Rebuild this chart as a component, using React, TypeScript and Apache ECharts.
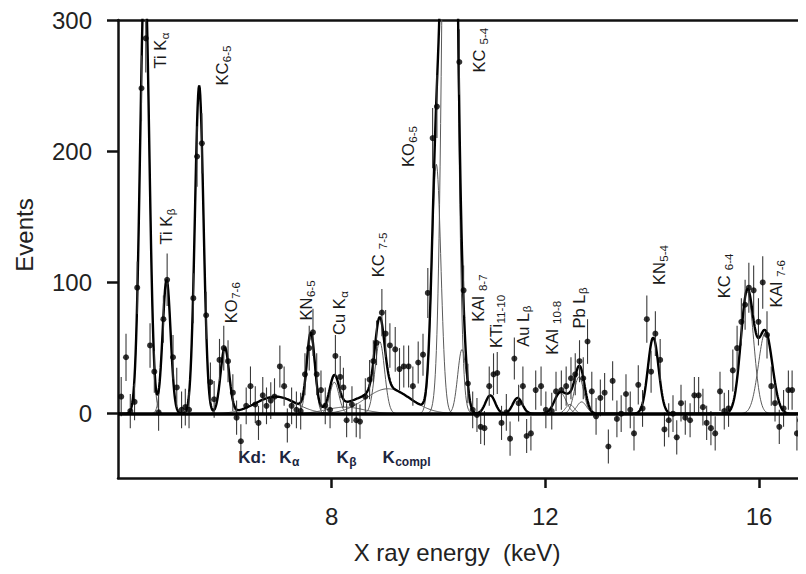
import React, { useEffect, useRef } from 'react';
import * as echarts from 'echarts';

// ---- measured spectrum (X-ray energy in keV, counts, statistical error) ----
const energyKeV = [
  4.06, 4.15, 4.23, 4.31, 4.36, 4.44, 4.52, 4.60, 4.68, 4.76, 4.85, 4.92, 5.03, 5.10, 5.19, 5.26, 5.33, 5.41, 5.48, 5.57,
  5.65, 5.73, 5.80, 5.90, 5.98, 6.06, 6.15, 6.22, 6.30, 6.40, 6.48, 6.57, 6.63, 6.71, 6.78, 6.86, 6.93, 7.03, 7.11, 7.17,
  7.25, 7.34, 7.42, 7.50, 7.58, 7.65, 7.72, 7.80, 7.88, 7.97, 8.07, 8.16, 8.22, 8.28, 8.38, 8.46, 8.53, 8.63, 8.71, 8.78,
  8.84, 8.94, 9.01, 9.09, 9.19, 9.27, 9.35, 9.44, 9.52, 9.62, 9.71, 9.80, 9.89, 9.97, 10.39, 10.47, 10.55, 10.64, 10.72, 10.79,
  10.86, 10.95, 11.03, 11.10, 11.18, 11.27, 11.34, 11.42, 11.50, 11.58, 11.65, 11.73, 11.82, 11.92, 12.01, 12.12, 12.20, 12.30, 12.39, 12.48,
  12.56, 12.64, 12.71, 12.79, 12.87, 12.95, 13.03, 13.11, 13.18, 13.26, 13.34, 13.42, 13.51, 13.59, 13.66, 13.74, 13.82, 13.90, 13.98, 14.06,
  14.15, 14.23, 14.31, 14.39, 14.46, 14.54, 14.62, 14.71, 14.79, 14.87, 14.95, 15.02, 15.10, 15.18, 15.27, 15.35, 15.43, 15.51, 15.59, 15.67,
  15.74, 15.81, 15.90, 15.99, 16.07, 16.15, 16.23, 16.30, 16.38, 16.46, 16.55, 16.62, 16.71, 16.77, 16.86,
];
const events = [
  13, 43, 2, 9, 96, 248, 286, 52, 32, 1, 72, 102, 43, 20, 3, 5, 3, 88, 196, 206,
  75, 24, 11, 41, 50, 40, 16, -3, -21, 6, 21, 7, -7, 14, 6, 10, 13, 36, 21, -9,
  6, 3, 2, 30, 50, 62, 30, 18, 6, 3, 44, 28, 20, -5, 7, -5, -6, 13, 26, 40,
  54, 77, 61, 52, 49, 34, 36, 36, 21, 39, 45, 92, 210, 234, 268, 94, 23, 3, -1, -10,
  -11, 21, 30, 31, -7, 1, -19, 42, 8, 21, -17, -15, 18, 21, 3, 2, 17, 18, 21, 27,
  30, 40, 27, 55, 17, -2, 12, 16, -25, 25, -4, 0, 15, 3, -15, 22, 4, 72, 32, 61,
  41, -12, -5, 0, -18, 8, -3, -5, 14, 14, 5, -7, -11, -15, 17, 2, 4, 33, 50, 70,
  83, 96, 94, 70, 100, 60, 21, 8, -10, 4, 18, 18, -15, -5, 11,
];
const eventErrors = [
  15, 18, 13, 14, 20, 25, 26, 17, 16, 14, 18, 20, 17, 15, 14, 14, 14, 19, 23, 23,
  18, 15, 14, 16, 17, 16, 14, 13, 13, 14, 15, 14, 13, 14, 14, 14, 14, 16, 15, 13,
  14, 14, 14, 16, 17, 18, 16, 15, 14, 14, 16, 16, 15, 13, 14, 13, 13, 14, 15, 16,
  17, 18, 18, 17, 17, 16, 16, 16, 15, 16, 16, 19, 23, 24, 25, 19, 15, 14, 13, 13,
  13, 15, 16, 16, 13, 14, 13, 16, 14, 15, 13, 13, 15, 15, 14, 14, 15, 15, 15, 16,
  16, 16, 16, 17, 15, 14, 14, 15, 13, 15, 14, 14, 15, 14, 13, 15, 14, 18, 16, 17,
  16, 13, 13, 14, 13, 14, 13, 13, 14, 14, 14, 13, 13, 13, 15, 14, 14, 16, 17, 18,
  19, 19, 19, 18, 20, 18, 15, 14, 13, 14, 15, 15, 13, 13, 14,
];

// ---- fitted line components (Gaussian parameters) ----
const peakNames = [
  'Ti Kα', 'Ti Kβ', 'KC 6-5', 'KO 7-6', 'Kd Kα', 'KN 6-5', 'Cu Kα', 'Kd Kβ', 'KC 7-5', 'Kd Kcompl', 'KO 6-5',
  'KC 5-4', 'KAl 8-7', 'KTi 11-10', 'Au Lβ', 'KAl 10-8', 'KAl 10-8 b', 'Pb Lβ1', 'Pb Lβ2', 'KN 5-4', 'KC 6-4', 'KAl 7-6',
];
const peakCenters = [
  4.50, 4.91, 5.52, 6.00, 6.95, 7.61, 8.05, 8.25, 8.90, 9.05, 9.96,
  10.21, 10.44, 10.97, 11.48, 12.28, 12.46, 12.63, 12.68, 14.02, 15.78, 16.12,
];
const peakHeights = [
  340, 102, 250, 50, 13, 58, 24, 5, 55, 19, 190,
  820, 49, 14, 12, 16, 7, 28, 9, 58, 93, 62,
];
const peakSigmas = [
  0.085, 0.075, 0.08, 0.08, 0.38, 0.075, 0.085, 0.35, 0.09, 0.42, 0.085,
  0.105, 0.08, 0.09, 0.09, 0.11, 0.08, 0.09, 0.09, 0.10, 0.12, 0.13,
];

const xTickValues = [8, 12, 16];
const yTickValues = [0, 100, 200, 300];

// ---- annotations ----
const peakLabels = [
  { main: 'Ti K', sub: 'α', at: [4.79, 263] },
  { main: 'Ti K', sub: 'β', at: [4.9, 129] },
  { main: 'KC', sub: '6-5', at: [5.95, 250] },
  { main: 'KO', sub: '7-6', at: [6.12, 69] },
  { main: 'KN', sub: '6-5', at: [7.52, 71] },
  { main: 'Cu K', sub: 'α', at: [8.14, 60] },
  { main: 'KC ', sub: '7-5', at: [8.87, 104] },
  { main: 'KO', sub: '6-5', at: [9.43, 188] },
  { main: 'KC ', sub: '5-4', at: [10.76, 260] },
  { main: 'KAl ', sub: '8-7', at: [10.74, 70] },
  { main: 'KTi', sub: '11-10', at: [11.08, 50] },
  { main: 'Au L', sub: 'β', at: [11.58, 51] },
  { main: 'KAl ', sub: '10-8', at: [12.13, 45] },
  { main: 'Pb L', sub: 'β', at: [12.63, 65] },
  { main: 'KN', sub: '5-4', at: [14.13, 98] },
  { main: 'KC ', sub: '6-4', at: [15.35, 88] },
  { main: 'KAl ', sub: '7-6', at: [16.32, 81] },
];
const kdLabels = [
  { main: 'Kd:', sub: '', at: [6.25, -33] },
  { main: 'K', sub: 'α', at: [7.02, -33] },
  { main: 'K', sub: 'β', at: [8.09, -33] },
  { main: 'K', sub: 'compl', at: [8.95, -33] },
];

const X_MIN = 4;
const X_MAX = 16.88;
const Y_MIN = -49;
const Y_MAX = 300;
const FONT = '"Liberation Sans", Arial, sans-serif';

function gauss(x: number, c: number, a: number, s: number) {
  const d = x - c;
  return a * Math.exp(-(d * d) / (2 * s * s));
}

let measureCtx: CanvasRenderingContext2D | null = null;
function textWidth(text: string, font: string) {
  if (!measureCtx) measureCtx = document.createElement('canvas').getContext('2d');
  if (!measureCtx) return text.length * 8;
  measureCtx.font = font;
  return measureCtx.measureText(text).width;
}

function subLabel(
  main: string,
  sub: string,
  x: number,
  y: number,
  rotation: number,
  mainSize: number,
  subSize: number,
  weight: string,
  color: string,
  subDrop: number,
) {
  const w = textWidth(main, `${weight} ${mainSize}px ${FONT}`);
  const children: any[] = [
    {
      type: 'text',
      x: 0,
      y: 0,
      style: { text: main, fontSize: mainSize, fontWeight: weight, fontFamily: FONT, fill: color, align: 'left', verticalAlign: 'middle' },
    },
  ];
  if (sub) {
    children.push({
      type: 'text',
      x: w + 0.5,
      y: subDrop,
      style: { text: sub, fontSize: subSize, fontWeight: weight, fontFamily: FONT, fill: color, align: 'left', verticalAlign: 'middle' },
    });
  }
  return { type: 'group', x, y, rotation, silent: true, z: 20, children };
}

export default function App() {
  const ref = useRef<HTMLDivElement>(null);

  useEffect(() => {
    if (!ref.current) return;
    const chart = echarts.init(ref.current, undefined, { renderer: 'svg' });

    const grid: number[] = [];
    for (let i = 0; i <= 1300; i++) {
      const x = X_MIN + i * 0.01;
      if (x > X_MAX + 0.001) break;
      grid.push(+x.toFixed(3));
    }

    const componentSeries = peakNames.map((name, k) => {
      const c = peakCenters[k];
      const s = peakSigmas[k];
      const a = peakHeights[k];
      const data = grid.filter((x) => Math.abs(x - c) < 5 * s).map((x) => [x, gauss(x, c, a, s)]);
      return {
        type: 'line',
        name,
        data,
        showSymbol: false,
        clip: true,
        silent: true,
        z: 2,
        lineStyle: { color: '#5a5a5a', width: 1 },
      };
    });

    const totalData = grid.map((x) => {
      let sum = 0;
      for (let k = 0; k < peakCenters.length; k++) sum += gauss(x, peakCenters[k], peakHeights[k], peakSigmas[k]);
      return [x, sum];
    });

    const pointData = energyKeV.map((x, i) => [x, events[i], eventErrors[i]]);

    const option: any = {
      animation: false,
      backgroundColor: '#ffffff',
      grid: { left: 118, right: 0, top: 20, bottom: 96, containLabel: false },
      xAxis: [
        {
          type: 'value',
          min: X_MIN,
          max: X_MAX,
          axisLine: { show: true, onZero: false, lineStyle: { color: '#111', width: 2.5 } },
          axisTick: { show: true, inside: false, length: 10, customValues: xTickValues, lineStyle: { color: '#111', width: 2.5 } },
          axisLabel: { show: true, customValues: xTickValues, margin: 26, fontSize: 24, color: '#222', fontFamily: FONT },
          splitLine: { show: false },
        },
        {
          type: 'value',
          position: 'top',
          min: X_MIN,
          max: X_MAX,
          axisLine: { show: true, onZero: false, lineStyle: { color: '#111', width: 2.5 } },
          axisTick: { show: false },
          axisLabel: { show: false },
          splitLine: { show: false },
        },
      ],
      yAxis: {
        type: 'value',
        min: Y_MIN,
        max: Y_MAX,
        axisLine: { show: true, onZero: false, lineStyle: { color: '#111', width: 2.5 } },
        axisTick: { show: true, inside: false, length: 11, customValues: yTickValues, lineStyle: { color: '#111', width: 2.5 } },
        axisLabel: { show: true, customValues: yTickValues, margin: 26, fontSize: 24, color: '#222', fontFamily: FONT },
        splitLine: { show: false },
      },
      series: [
        ...componentSeries,
        {
          type: 'line',
          name: 'fit',
          data: totalData,
          showSymbol: false,
          clip: true,
          silent: true,
          z: 3,
          lineStyle: { color: '#000', width: 2.4 },
          markLine: {
            silent: true,
            symbol: 'none',
            label: { show: false },
            lineStyle: { color: '#000', width: 3.5, type: 'solid' },
            data: [{ yAxis: 0 }],
          },
        },
        {
          type: 'custom',
          name: 'errors',
          clip: true,
          silent: true,
          z: 4,
          encode: { x: 0, y: 1 },
          data: pointData,
          renderItem: (params: any, api: any) => {
            const x = api.value(0);
            const y = api.value(1);
            const e = api.value(2);
            const p1 = api.coord([x, y - e]);
            const p2 = api.coord([x, y + e]);
            return {
              type: 'line',
              shape: { x1: p1[0], y1: p1[1], x2: p2[0], y2: p2[1] },
              style: { stroke: '#3a3a3a', lineWidth: 1.1 },
            };
          },
        },
        {
          type: 'scatter',
          name: 'data',
          data: pointData.map((p) => [p[0], p[1]]),
          symbol: 'circle',
          symbolSize: 6,
          clip: true,
          silent: true,
          z: 5,
          itemStyle: { color: '#000' },
        },
      ],
    };

    chart.setOption(option);

    const graphics: any[] = [];
    peakLabels.forEach((lab) => {
      const p = chart.convertToPixel({ gridIndex: 0 }, lab.at) as number[];
      graphics.push(subLabel(lab.main, lab.sub, p[0], p[1], Math.PI / 2, 16.5, 11.5, 'normal', '#1a1a1a', 4.5));
    });
    kdLabels.forEach((lab) => {
      const p = chart.convertToPixel({ gridIndex: 0 }, lab.at) as number[];
      graphics.push(subLabel(lab.main, lab.sub, p[0], p[1], 0, 17, 12, 'bold', '#1c2540', 4.5));
    });
    graphics.push({
      type: 'text',
      x: 24,
      y: 235,
      rotation: Math.PI / 2,
      silent: true,
      style: { text: 'Events', fontSize: 24, fontFamily: FONT, fill: '#222', align: 'center', verticalAlign: 'middle' },
    });
    graphics.push({
      type: 'text',
      x: 457,
      y: 552,
      silent: true,
      style: { text: 'X ray energy  (keV)', fontSize: 24, fontFamily: FONT, fill: '#222', align: 'center', verticalAlign: 'middle' },
    });
    chart.setOption({ graphic: graphics });

    return () => chart.dispose();
  }, []);

  return <div ref={ref} style={{ width: 806, height: 574, margin: -8 }} />;
}
